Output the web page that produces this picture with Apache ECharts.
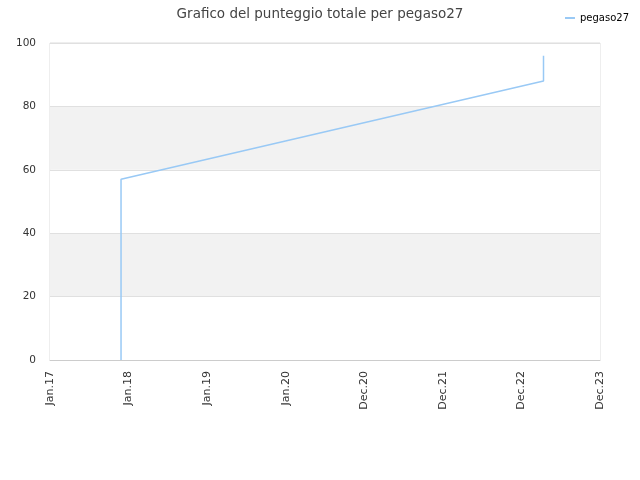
<!DOCTYPE html>
<html><head><meta charset="utf-8">
<script src="https://cdn.jsdelivr.net/npm/echarts@6/dist/echarts.min.js"></script>
<style>html,body{margin:0;padding:0;background:#fff}#c{width:640px;height:480px}</style>
</head><body><div id="c"></div>
<script>
const tickLabels = ['Jan.17','Jan.18','Jan.19','Jan.20','Dec.20','Dec.21','Dec.22','Dec.23'];
const seriesName = 'pegaso27';
// x = years since Jan.17 (axis position), y = score
const xPos = [0.904, 0.904, 6.281, 6.281];
const scores = [0, 57, 88, 96];
const data = xPos.map((x, i) => [x, scores[i]]);

const chart = echarts.init(document.getElementById('c'));
chart.setOption({
  animation: false,
  title: { text: 'Grafico del punteggio totale per pegaso27', left: 'center', top: 2,
    textStyle: { fontFamily: 'DejaVu Sans', fontSize: 13.5, fontWeight: 'normal', color: '#444' } },
  legend: { data: [seriesName], right: 6, top: 8, icon: 'rect', itemWidth: 10, itemHeight: 2, itemGap: 5,
    textStyle: { fontFamily: 'DejaVu Sans', fontSize: 10, color: '#000' } },
  grid: { left: 50, right: 40, top: 43, bottom: 120, show: true, borderColor: '#ddd', borderWidth: 1 },
  xAxis: { type: 'value', min: 0, max: tickLabels.length - 1, interval: 1,
    axisLine: { show: true, lineStyle: { color: '#ccc' } }, axisTick: { show: false },
    splitLine: { show: false },
    axisLabel: { rotate: 90, fontFamily: 'DejaVu Sans', fontSize: 11, color: '#333', margin: 11,
      formatter: v => tickLabels[Math.round(v)] } },
  yAxis: { type: 'value', min: 0, max: 100, interval: 20,
    axisLine: { show: false }, axisTick: { show: false },
    splitLine: { show: true, lineStyle: { color: '#e0e0e0' } },
    splitArea: { show: true, areaStyle: { color: ['#ffffff', '#f2f2f2'] } },
    axisLabel: { fontFamily: 'DejaVu Sans', fontSize: 10.5, color: '#333', margin: 14 } },
  series: [{ name: seriesName, type: 'line', data: data, showSymbol: false, symbol: 'none',
    lineStyle: { color: '#99c9f5', width: 1.5 }, itemStyle: { color: '#99c9f5' } }]
});
</script></body></html>
